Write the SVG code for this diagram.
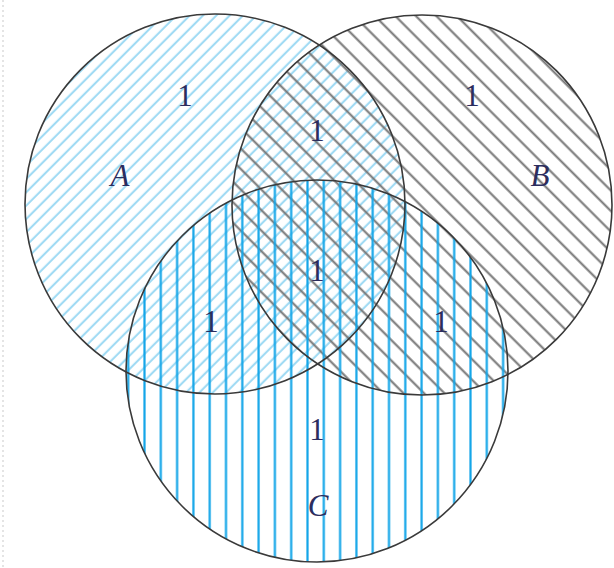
<svg xmlns="http://www.w3.org/2000/svg" width="614" height="568" viewBox="0 0 614 568">
  <style>
    .outline { fill: none; stroke: #3a3a3a; stroke-width: 1.6; }
    .num { font-family: "Liberation Serif", "Times New Roman", serif; font-size: 31px; fill: #2b2d5e; text-anchor: middle; }
    .lbl { font-family: "Liberation Serif", "Times New Roman", serif; font-size: 31px; font-style: italic; fill: #2b2d5e; text-anchor: middle; }
  </style>
  <defs>
    <pattern id="hatchA" patternUnits="userSpaceOnUse" width="9.43" height="20" patternTransform="rotate(45)">
      <line x1="3.6" y1="-1" x2="3.6" y2="21" stroke="#9ad8f3" stroke-width="2"/>
    </pattern>
    <pattern id="hatchB" patternUnits="userSpaceOnUse" width="14.5" height="20" patternTransform="rotate(-45)">
      <line x1="7.25" y1="-1" x2="7.25" y2="21" stroke="#727272" stroke-width="2"/>
    </pattern>
    <pattern id="hatchC" patternUnits="userSpaceOnUse" width="16.3" height="20" patternTransform="translate(136.35 0)">
      <line x1="8.15" y1="-1" x2="8.15" y2="21" stroke="#14a6e8" stroke-width="2.2"/>
    </pattern>
  </defs>
  <rect width="614" height="568" fill="#ffffff"/>
  <line x1="3" y1="0" x2="3" y2="568" stroke="#e4e4e4" stroke-width="2" stroke-dasharray="2 3"/>

  <g id="setA">
    <circle cx="215" cy="204" r="190" fill="url(#hatchA)"/>
  </g>
  <g id="setB">
    <circle cx="422" cy="205" r="190" fill="url(#hatchB)"/>
  </g>
  <g id="setC">
    <circle cx="317" cy="371" r="191" fill="url(#hatchC)"/>
  </g>
  <g id="outlines">
    <circle class="outline" cx="215" cy="204" r="190"/>
    <circle class="outline" cx="422" cy="205" r="190"/>
    <circle class="outline" cx="317" cy="371" r="191"/>
  </g>
  <g id="connectors"></g>

  <g id="labels">
    <text class="lbl" x="120" y="186">A</text>
    <text class="lbl" x="540" y="186">B</text>
    <text class="lbl" x="318" y="516">C</text>
  </g>
  <g id="values">
    <text class="num" x="185" y="106">1</text>
    <text class="num" x="472" y="106">1</text>
    <text class="num" x="317" y="141">1</text>
    <text class="num" x="317" y="281">1</text>
    <text class="num" x="211" y="332">1</text>
    <text class="num" x="441" y="332">1</text>
    <text class="num" x="317" y="440">1</text>
  </g>
</svg>
